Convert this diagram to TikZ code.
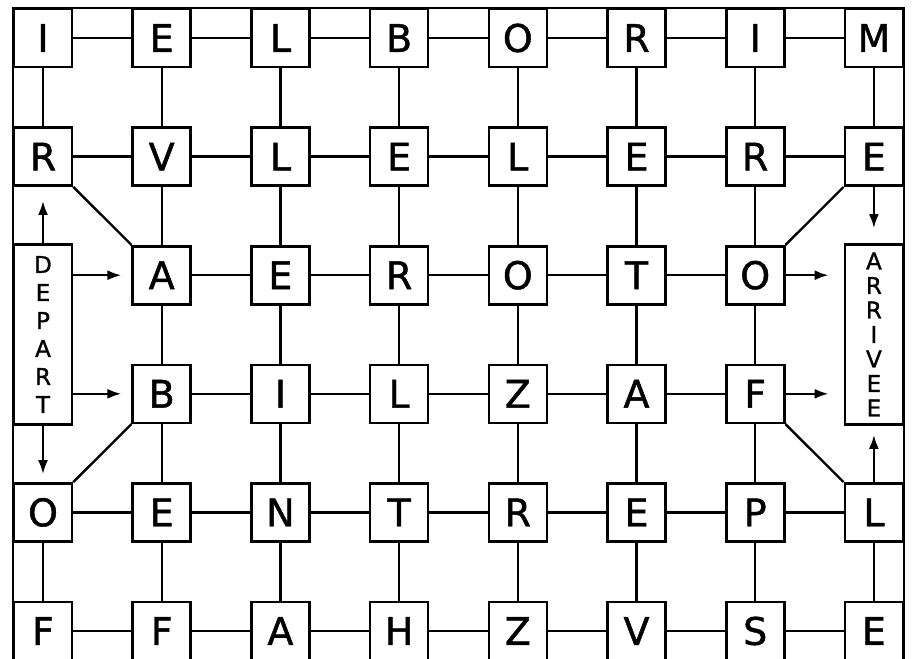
\documentclass[tikz,border=0pt]{standalone}
\usepackage{fontspec}
\setsansfont{DejaVu Sans}
\newfontfamily\gridfont{DejaVu Sans}[FakeBold=1.2]
\usetikzlibrary{arrows.meta}

\tikzset{
  letterbox/.style={draw, line width=2.6pt, minimum size=58pt, inner sep=0pt,
    font=\fontsize{38}{38}\selectfont\gridfont},
  endbox/.style={draw, line width=2.6pt, minimum width=58pt, minimum height=180pt,
    inner sep=0pt, align=center},
  link/.style={line width=2.4pt},
  arr/.style={line width=2.4pt, -{Latex[length=14pt,width=10pt]}},
}

\begin{document}
\begin{tikzpicture}[x=118.7pt,y=-118.6pt]
\useasboundingbox (0.6377,0.6796) rectangle ++(7.7085,5.5481);
% letter boxes, row by row
\foreach \c/\l in {1/I,2/E,3/L,4/B,5/O,6/R,7/I,8/M}
    \node[letterbox] (b1\c) at (\c,1) {\l};
\foreach \c/\l in {1/R,2/V,3/L,4/E,5/L,6/E,7/R,8/E}
    \node[letterbox] (b2\c) at (\c,2) {\l};
\foreach \c/\l in {2/A,3/E,4/R,5/O,6/T,7/O}
    \node[letterbox] (b3\c) at (\c,3) {\l};
\foreach \c/\l in {2/B,3/I,4/L,5/Z,6/A,7/F}
    \node[letterbox] (b4\c) at (\c,4) {\l};
\foreach \c/\l in {1/O,2/E,3/N,4/T,5/R,6/E,7/P,8/L}
    \node[letterbox] (b5\c) at (\c,5) {\l};
\foreach \c/\l in {1/F,2/F,3/A,4/H,5/Z,6/V,7/S,8/E}
    \node[letterbox] (b6\c) at (\c,6) {\l};
\node[endbox, font=\fontsize{23}{28}\selectfont\gridfont] (depart) at (1,3.5) {D\\E\\P\\A\\R\\T};
\node[endbox, font=\fontsize{23}{24.5}\selectfont\gridfont] (arrivee) at (8,3.5) {A\\R\\R\\I\\V\\E\\E};
% frame
\draw[link] (b11.north west) rectangle (b68.south east);
% horizontal links
\foreach \r in {1,2,5,6}
    \foreach \c [count=\n from 2] in {1,...,7}
        \draw[link] (b\r\c) -- (b\r\n);
\foreach \r in {3,4}
    \foreach \c [count=\n from 3] in {2,...,6}
        \draw[link] (b\r\c) -- (b\r\n);
% vertical links
\foreach \c in {2,...,7}
    \foreach \r [count=\n from 2] in {1,...,5}
        \draw[link] (b\r\c) -- (b\n\c);
\foreach \c in {1,8}
{
    \draw[link] (b1\c) -- (b2\c);
    \draw[link] (b5\c) -- (b6\c);
}
% diagonals
\draw[link] (b21.south east) -- (b32.north west);
\draw[link] (b42.south west) -- (b51.north east);
\draw[link] (b28.south west) -- (b37.north east);
\draw[link] (b47.south east) -- (b58.north west);
% arrows
\draw[arr, shorten >=10pt] (depart.east |- b32) -- (b32);
\draw[arr, shorten >=10pt] (depart.east |- b42) -- (b42);
\draw[arr, shorten >=14pt] (depart) -- (b21);
\draw[arr, shorten >=8pt] (depart) -- (b51);
\draw[arr, shorten >=15pt] (b37) -- (arrivee.west |- b37);
\draw[arr, shorten >=15pt] (b47) -- (arrivee.west |- b47);
\draw[arr, shorten >=15pt] (b28) -- (arrivee);
\draw[arr, shorten >=9pt] (b58) -- (arrivee);
\end{tikzpicture}
\end{document}
